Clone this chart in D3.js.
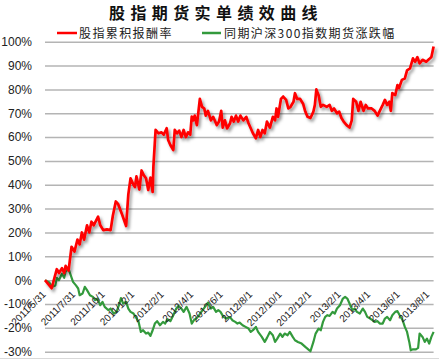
<!DOCTYPE html>
<html><head><meta charset="utf-8">
<script src="https://cdn.jsdelivr.net/npm/d3@7"></script>
<style>body{margin:0;background:#fff}svg{display:block}</style>
</head><body>
<svg id="chart" width="439" height="360"></svg>
<script>
const title = "股指期货实单绩效曲线";
const seriesNames = ["股指累积报酬率", "同期沪深300指数期货涨跌幅"];
const yTicks = [-30,-20,-10,0,10,20,30,40,50,60,70,80,90,100];
const tickDays = [0,40,80,120,160,200,240,280,320,360,400,440,480,520];
const tickLabels = ["2011/5/31","2011/7/31","2011/10/1","2011/12/1","2012/2/1","2012/4/1","2012/6/1","2012/8/1","2012/10/1","2012/12/1","2013/2/1","2013/4/1","2013/6/1","2013/8/1"];
const lastDay = 527;
// [trading-day index, cumulative return %]
const redSeries = [[0,0],[9,-3.4],[16,4.6],[19,3],[23,5],[26,3],[28,6],[32,4],[36,14],[40,12],[44,17],[47,15],[50,20],[53,17],[57,23],[60,20],[63,24.5],[66,23],[72,26.6],[75,23],[79,21],[84,21.3],[89,21],[92,27],[96,33],[99,32],[104,28],[110,22.7],[113,36],[116,42.7],[120,40],[122,39],[124,43.5],[128,38],[131,46],[134,44],[137,42.7],[140,37.8],[143,43],[146,37],[147,47.6],[150,63],[154,61.6],[158,62],[161,61],[165,63.7],[167,58.8],[170,56.7],[174,54.6],[176,63],[179,61.6],[182,62.7],[185,60],[188,63],[191,60],[194,62],[197,61],[199,68.6],[201,67],[203,69],[206,65],[210,76],[213,72.7],[216,72],[218,69],[221,71],[225,67],[228,68.5],[233,65],[236,66.5],[239,71],[241,64],[244,67],[247,63.7],[251,65.8],[253,68.5],[256,66.5],[259,69],[262,66.5],[265,69],[269,67],[273,68.5],[276,65.8],[279,63.7],[282,61.6],[286,59.5],[289,63],[292,60],[295,63],[298,61.6],[301,66.5],[305,64],[309,68.5],[312,67],[314,72],[316,68.5],[320,76],[323,77],[327,75.6],[330,72],[333,72.7],[337,74.8],[339,78.4],[342,76],[346,76],[350,74],[353,70.7],[356,68.5],[360,68],[364,70.7],[366,73.5],[368,80],[371,77.6],[374,72.7],[377,73.5],[382,72.7],[386,73.5],[389,71],[392,72],[396,70],[399,70.7],[402,68],[405,66.5],[409,65],[413,64],[416,67],[418,76],[422,74.8],[425,71],[428,74.8],[432,71],[435,73.5],[438,72],[443,72],[447,71],[451,69],[454,71],[458,73.5],[461,75.6],[464,73.5],[467,74.8],[469,71],[471,78.4],[475,77.6],[478,81.8],[480,80.5],[484,84],[488,84.6],[491,88],[495,88.8],[499,93],[502,91.6],[505,93.5],[508,90.9],[512,92.4],[517,91.6],[521,92.7],[524,93.6],[527,98]];
// [trading-day index, CSI300 futures change %]
const greenSeries = [[0,0],[6,-1],[10,-2.8],[14,-2.2],[16,1],[19,0],[23,2.7],[26,1],[28,3.7],[32,4.6],[35,2],[38,-0.7],[42,-2.2],[45,-3.5],[47,-6.3],[51,-5.6],[54,-2.8],[57,-4.2],[61,-6.3],[65,-7],[68,-8.4],[71,-7.7],[75,-10.5],[78,-9.1],[81,-11.2],[86,-12.6],[89,-11.9],[93,-14],[97,-13.3],[101,-9.8],[103,-7.5],[106,-9.8],[110,-9.1],[113,-11.9],[116,-13.3],[120,-14],[123,-15.4],[127,-17.5],[130,-21.7],[133,-21],[137,-22.4],[140,-22],[143,-23.4],[146,-21],[149,-18.2],[152,-17.2],[156,-18.9],[160,-17.5],[163,-18.2],[166,-16.4],[170,-17.2],[174,-14.7],[178,-11.9],[181,-10.8],[185,-11.9],[188,-13.3],[192,-11.2],[196,-14],[199,-18.2],[202,-16.8],[206,-15.8],[209,-14.7],[212,-13.3],[217,-11.2],[221,-9.4],[225,-11.9],[228,-11.2],[232,-13.3],[235,-12.6],[238,-13.3],[242,-15.4],[246,-16.1],[251,-15.5],[254,-16.8],[258,-17.5],[261,-18.2],[264,-17.8],[268,-18.9],[272,-19.6],[276,-20.3],[279,-21.7],[282,-21],[286,-19.6],[289,-21.7],[294,-23.8],[298,-25.9],[301,-24.2],[305,-21.7],[309,-23.1],[312,-25.9],[315,-24.5],[319,-22.4],[322,-23.8],[325,-22.4],[329,-23.1],[332,-21.7],[336,-23.8],[339,-25.2],[343,-25.9],[348,-26.6],[353,-28],[357,-29],[360,-29.8],[364,-25.9],[367,-22.4],[371,-20.3],[374,-21],[377,-17.5],[380,-15.4],[383,-14.7],[386,-15],[390,-13.3],[393,-14],[396,-11.9],[400,-10.5],[404,-7.7],[407,-7],[410,-7.7],[414,-10.5],[417,-12.6],[420,-11.9],[423,-13.3],[427,-14],[431,-11.9],[434,-13.3],[437,-15.4],[441,-16.1],[444,-16.8],[447,-17.5],[451,-17.2],[454,-18.2],[458,-18.2],[461,-16.1],[464,-15.4],[468,-16.8],[471,-14.7],[475,-13.3],[478,-13],[481,-14.7],[485,-16.8],[488,-19.6],[491,-21.7],[494,-25.9],[496,-29.4],[499,-29],[503,-29],[506,-28.4],[508,-22.4],[512,-23.8],[515,-25.9],[518,-24.5],[521,-26.6],[524,-23.8],[527,-21.7]];

const svg = d3.select("#chart");
const W = 439, H = 360;
const x = d3.scaleLinear().domain([0, lastDay]).range([45, 433.6]);
const y = d3.scaleLinear().domain([-30, 100]).range([351.7, 41.7]);
const RED = "#ff0000", GREEN = "#339a3c";

const defs = svg.append("defs");
const f = defs.append("filter").attr("id","shadow").attr("x","-10%").attr("y","-10%").attr("width","120%").attr("height","120%");
f.append("feDropShadow").attr("dx",2).attr("dy",2.5).attr("stdDeviation",1.4).attr("flood-color","#000").attr("flood-opacity",0.4);

// bottom frame line
svg.append("line").attr("x1",0).attr("x2",W).attr("y1",358.5).attr("y2",358.5).attr("stroke","#d9d9d9").attr("stroke-width",1);

// title
svg.append("text").attr("x",216).attr("y",19).attr("text-anchor","middle")
  .attr("font-family","'Noto Sans CJK SC', sans-serif").attr("font-size",16).attr("font-weight","bold")
  .attr("letter-spacing","5.4px").attr("fill","#111").text(title);

// legend
const legend = [{name:seriesNames[0], color:RED, x1:57, x2:77, tx:79},{name:seriesNames[1], color:GREEN, x1:202, x2:221, tx:224}];
legend.forEach(l => {
  svg.append("line").attr("x1",l.x1).attr("x2",l.x2).attr("y1",33).attr("y2",33).attr("stroke",l.color).attr("stroke-width",2.5);
  svg.append("text").attr("x",l.tx).attr("y",37.5).attr("font-family","'Noto Sans CJK SC', sans-serif")
    .attr("font-size",12).attr("letter-spacing","1.4px").attr("fill","#222").text(l.name);
});

// y grid & labels
const yAxis = d3.axisLeft(y).tickValues(yTicks).tickSize(-(433.6-45)).tickFormat(d => d + "%");
const gy = svg.append("g").attr("transform","translate(45,0)").call(yAxis);
gy.select(".domain").remove();
gy.selectAll(".tick line").attr("stroke","#b4b4b4").attr("stroke-width",1.5);
gy.selectAll(".tick text").attr("x",-13).attr("font-family","'Liberation Sans', Arial, sans-serif")
  .attr("font-size",12).attr("fill","#222");

const line = d3.line().x(d => x(d[0])).y(d => y(d[1]));
svg.append("path").datum(greenSeries).attr("d",line).attr("fill","none").attr("stroke",GREEN).attr("stroke-width",2.2).attr("stroke-linejoin","round");
svg.append("path").datum(redSeries).attr("d",line).attr("fill","none").attr("stroke",RED).attr("stroke-width",2.7).attr("stroke-linejoin","round").attr("filter","url(#shadow)");

// x axis labels (category axis crossing at 0%)
const xAxis = d3.axisBottom(x).tickValues(tickDays).tickSize(0).tickFormat((d,i) => tickLabels[i]);
const gx = svg.append("g").attr("transform",`translate(0,${y(0)})`).call(xAxis);
gx.select(".domain").remove();
gx.selectAll(".tick text").attr("font-family","'Liberation Sans', Arial, sans-serif").attr("font-size",10).attr("fill","#222")
  .attr("text-anchor","end").attr("dy",null).attr("y",null)
  .attr("transform","translate(1,15) rotate(-45)");
</script>
</body></html>
